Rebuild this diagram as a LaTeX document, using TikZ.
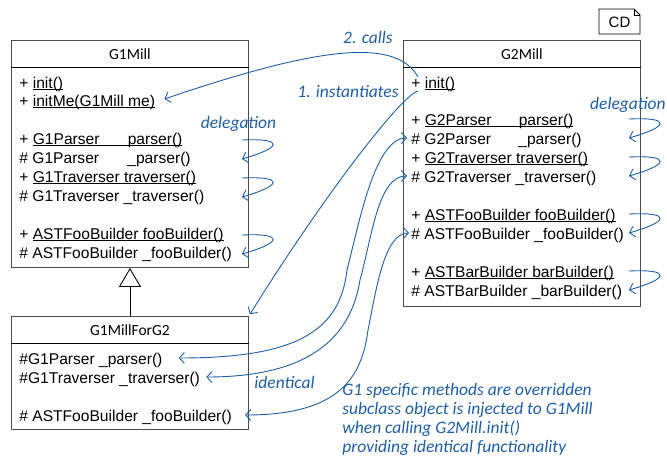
\documentclass[tikz,border=0pt]{standalone}
\usepackage{fontspec}
\setmainfont{Liberation Sans}
\newfontfamily\hdfont{Carlito}
\usetikzlibrary{arrows.meta,calc,positioning}
\definecolor{annot}{RGB}{31,94,168}
\tikzset{every picture/.style={line width=0.75pt}}
% 静态成员的下划线, 紧贴基线
\newcommand{\statm}[1]{\setbox0\hbox{#1}\rlap{\rule[-1.6pt]{\wd0}{0.9pt}}\box0}
% 委托小回环: 类框, 起点行, 终点行, 偏移
\newcommand{\delegloop}[4]{%
  \draw[link,->] ($(#1.east |- #2.base)+#4$) .. controls +(44,-2) and +(39,-11) .. ($(#1.east |- #3.base)+#4$);}

\begin{document}
\begin{tikzpicture}[x=1pt,y=-1pt,>={Straight Barb[length=5pt,width=11pt]},
    classbox/.style={draw=black!70, line width=0.9pt, anchor=north west, minimum width=237pt, inner sep=0pt},
    classname/.style={font=\hdfont\fontsize{15.5}{18}\selectfont},
    member/.style={anchor=base west, inner sep=3pt, font=\fontsize{15.6}{18}\selectfont},
    remark/.style={text=annot, font=\hdfont\itshape\fontsize{17.5}{19}\selectfont},
    link/.style={annot, line width=0.9pt}]
    \useasboundingbox (0,0) rectangle (667,458);

    % 类框
    \node[classbox, minimum height=227pt] (g1box) at (11,40) {};
    \node[classbox, minimum height=113pt] (g12box) at (11,316) {};
    \node[classbox, minimum height=266pt] (g2box) at (403,40) {};
    \foreach \b in {g1box,g12box,g2box}
        \draw ([yshift=-27pt]\b.north west) -- ([yshift=-27pt]\b.north east);
    \node[classname] (g1name) at ([yshift=-14pt]g1box.north) {G1Mill};
    \node[classname] (g12name) at ([yshift=-14pt]g12box.north) {G1MillForG2};
    \node[classname] (g2name) at ([yshift=-14pt]g2box.north) {G2Mill};

    % G1Mill 的成员
    \node[member] (g1init) at (16,88) {+ \statm{init()}};
    \node[member] (g1initme) at (16,106) {+ \statm{initMe(G1Mill me)}};
    \node[member] (g1parser) at (16,144) {+ \statm{\makebox[95pt][l]{G1Parser}parser()}};
    \node[member] (g1uparser) at (16,163) {\# \makebox[95pt][l]{G1Parser}\_parser()};
    \node[member] (g1traverser) at (16,182) {+ \statm{G1Traverser traverser()}};
    \node[member] (g1utraverser) at (16,201) {\# G1Traverser \_traverser()};
    \node[member] (g1foo) at (16,239) {+ \statm{ASTFooBuilder fooBuilder()}};
    \node[member] (g1ufoo) at (16,258) {\# ASTFooBuilder \_fooBuilder()};

    % G1MillForG2 的成员
    \node[member] (g12parser) at (16,364) {\#G1Parser \_parser()};
    \node[member] (g12traverser) at (16,383) {\#G1Traverser \_traverser()};
    \node[member] (g12foo) at (16,421) {\# ASTFooBuilder \_fooBuilder()};

    % G2Mill 的成员
    \node[member] (g2init) at (408,88) {+ \statm{init()}};
    \node[member] (g2parser) at (408,125) {+ \statm{\makebox[94pt][l]{G2Parser}parser()}};
    \node[member] (g2uparser) at (408,144) {\# \makebox[94pt][l]{G2Parser}\_parser()};
    \node[member] (g2traverser) at (408,163) {+ \statm{G2Traverser traverser()}};
    \node[member] (g2utraverser) at (408,182) {\# G2Traverser \_traverser()};
    \node[member] (g2foo) at (408,220) {+ \statm{ASTFooBuilder fooBuilder()}};
    \node[member] (g2ufoo) at (408,239) {\# ASTFooBuilder \_fooBuilder()};
    \node[member] (g2bar) at (408,277) {+ \statm{ASTBarBuilder barBuilder()}};
    \node[member] (g2ubar) at (408,296) {\# ASTBarBuilder \_barBuilder()};

    % 继承
    \draw[line width=0.9pt, -{Triangle[open, length=19pt, width=22pt]}] (g12box.north) -- (g1box.south);

    % CD 标签
    \node[font=\fontsize{15}{18}\selectfont] (cd) at (619.5,22) {CD};
    \draw (599,9) -- (634,9) -- (640,15) -- (640,34) -- (599,34) -- cycle;
    \draw (634,9) -- (634,15) -- (640,15);

    % 委托
    \delegloop{g1box}{g1parser}{g1uparser}{(-7,-4)}
    \delegloop{g1box}{g1traverser}{g1utraverser}{(-7,-4)}
    \delegloop{g1box}{g1foo}{g1ufoo}{(-7,-4)}
    \delegloop{g2box}{g2parser}{g2uparser}{(-12,-6)}
    \delegloop{g2box}{g2traverser}{g2utraverser}{(-12,-6)}
    \delegloop{g2box}{g2foo}{g2ufoo}{(-12,-6)}
    \delegloop{g2box}{g2bar}{g2ubar}{(-12,-6)}
    \node[remark] (deleg1) at (238.5,124) {delegation};
    \node[remark, anchor=east, inner sep=0pt] (deleg2) at (666,105) {delegation};

    % 调用与实例化
    \draw[link,->] ($(g2init.base west)+(10,-11)$) .. controls +(-23,-42) and +(144,-49) .. ($(g1initme.base east)+(6,-7)$);
    \draw[link,->,shorten >=2pt] ($(g2init.base west)+(10,3)$) .. controls +(-18,5) and +(70,-113) .. (g12box.north east);
    \node[remark] (callslbl) at (368,37) {2. calls};
    \node[remark] (instlbl) at (348,92) {1. instantiates};

    % 相同的实现
    \draw[link,<->] ($(g12parser.base east)+(13,-6)$) .. controls +(120,0) and +(-7,60) .. (347,270)
        .. controls +(12.5,-48.5) and +(-32,0) .. ($(g2uparser.base west)+(-1,-6)$);
    \draw[link,<->] ($(g12traverser.base east)+(3,-6)$) .. controls +(112,0) and +(-8,50) .. (360,280)
        .. controls +(12,-43) and +(-29,0) .. ($(g2utraverser.base west)+(-1,-6)$);
    \draw[link,<->] ($(g12foo.base east)+(10,-6)$) .. controls +(97,0) and +(-6,45) .. (368,330)
        .. controls +(8,-39) and +(-25,0) .. ($(g2ufoo.base west)+(1,-6)$);
    \node[remark] (identlbl) at (284.5,382) {identical};
    \node[remark, anchor=north west, align=left, inner sep=0pt] (summary) at (342,383)
        {G1 specific methods are overridden\\subclass object is injected to G1Mill\\when calling G2Mill.init()\\providing identical functionality};
\end{tikzpicture}
\end{document}
